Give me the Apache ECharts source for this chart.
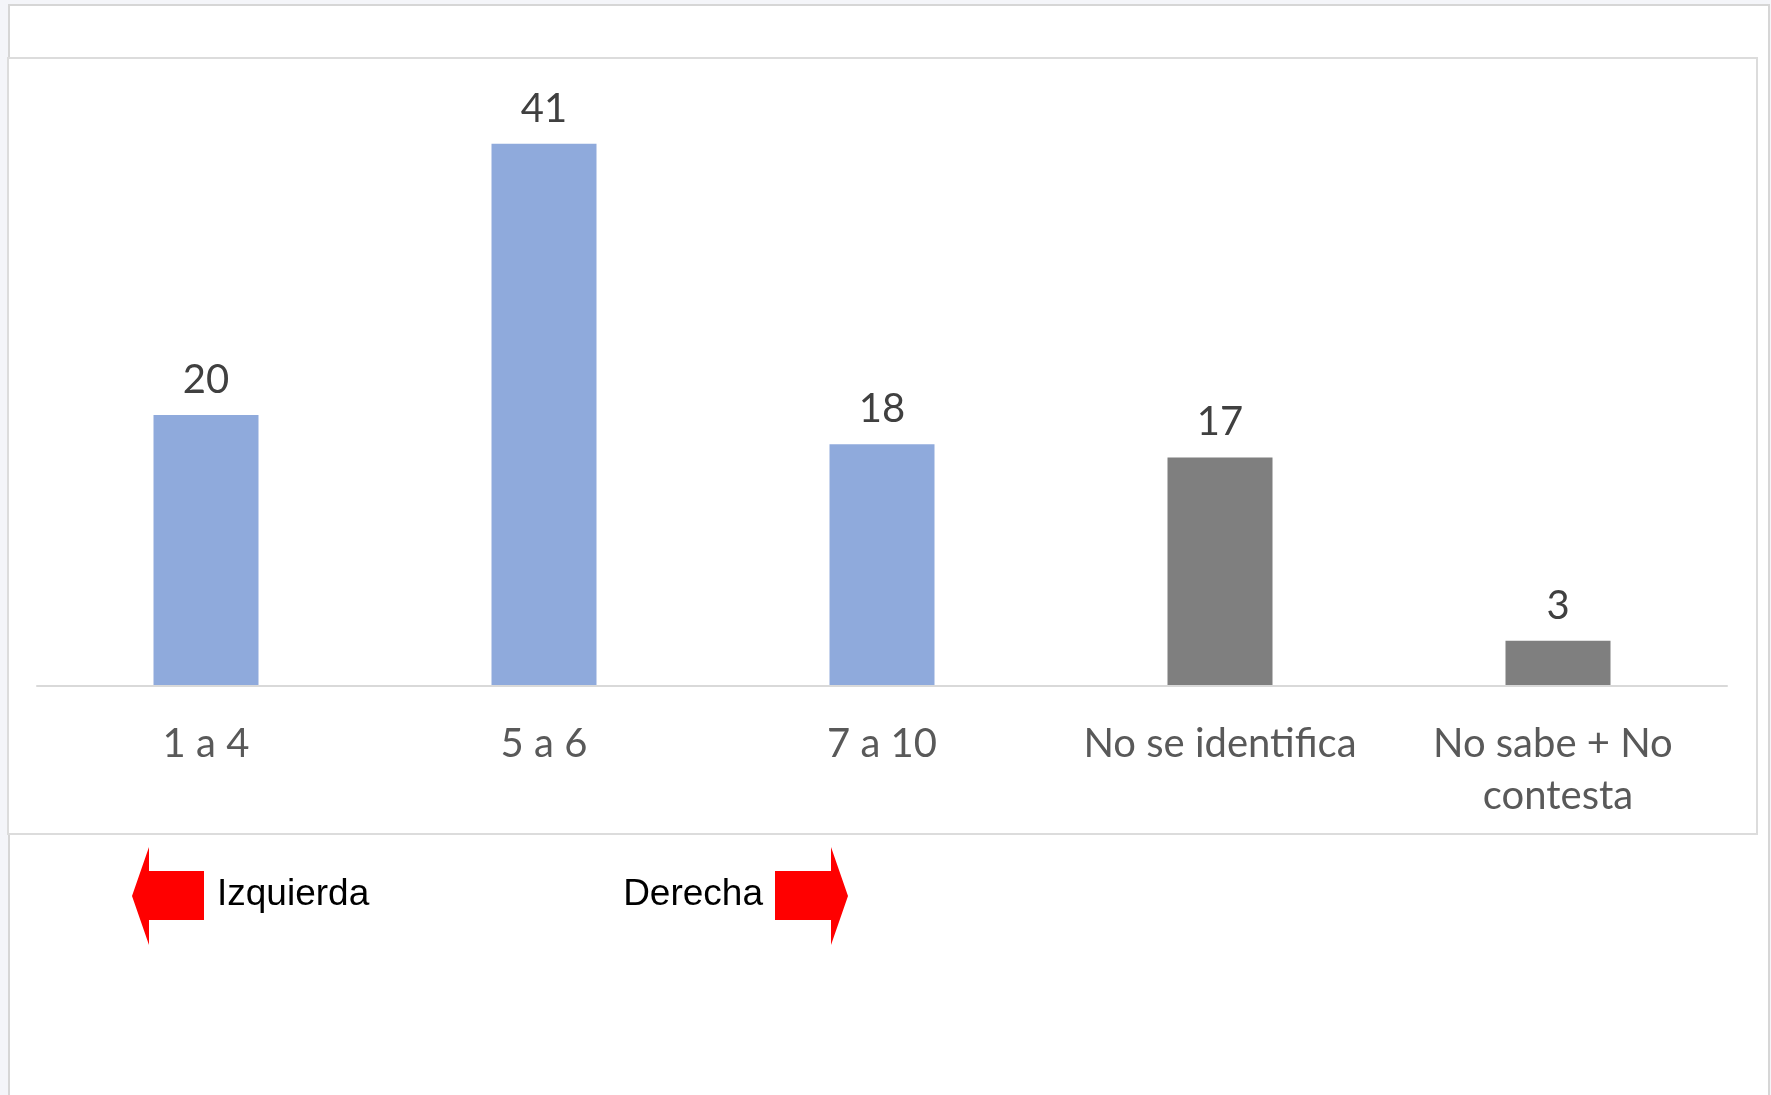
<!DOCTYPE html>
<html>
<head>
<meta charset="utf-8">
<script src="https://cdn.jsdelivr.net/npm/echarts@6/dist/echarts.min.js"></script>
<style>
  html, body { margin: 0; padding: 0; background: #f4f5f9; }
  #chart { width: 1771px; height: 1095px; }
</style>
</head>
<body>
<div id="chart"></div>
<script>
// categories and values (percent)
const categories = ['1 a 4', '5 a 6', '7 a 10', 'No se identifica', 'No sabe + No contesta']
const values = [20.4, 40.8, 18.2, 17.2, 3.4]
// which bars belong to the left-right scale, the rest are "no position"
const onScale = [true, true, true, false, false]

const BLUE = '#8faadc'
const GREY = '#7f7f7f'

let chart = echarts.init(document.getElementById('chart'))

let opts = {
  backgroundColor: '#f4f5f9',
  animation: false,
  grid: { left: 37, right: 44, top: 88, bottom: 409, containLabel: false },
  xAxis: {
    type: 'category',
    data: categories,
    axisLine: { show: true, lineStyle: { color: '#d9d9d9', width: 2 } },
    axisTick: { show: false },
    axisLabel: {
      interval: 0,
      margin: 32,
      color: '#595959',
      fontFamily: 'Lato',
      fontSize: 40,
      lineHeight: 52,
      width: 300,
      overflow: 'break'
    },
    z: 3
  },
  yAxis: {
    type: 'value',
    min: 0,
    max: 45,
    show: false,
    splitLine: { show: false }
  },
  series: [
    {
      type: 'bar',
      data: values,
      barWidth: 105,
      itemStyle: {
        color: p => onScale[p.dataIndex] ? BLUE : GREY
      },
      label: {
        show: true,
        position: 'top',
        distance: 15,
        color: '#404040',
        fontFamily: 'Lato',
        fontSize: 40,
        formatter: p => Math.round(p.value)
      }
    }
  ],
  graphic: [
    // outer white sheet
    {
      type: 'rect', z: -10, silent: true,
      shape: { x: 9, y: 5, width: 1760, height: 1100 },
      style: { fill: '#ffffff', stroke: '#d6d6d6', lineWidth: 2 }
    },
    // chart area frame
    {
      type: 'rect', z: -9, silent: true,
      shape: { x: 8, y: 58, width: 1749, height: 776 },
      style: { fill: '#ffffff', stroke: '#dcdcdc', lineWidth: 2 }
    },
    // left arrow
    {
      type: 'polygon', silent: true,
      shape: { points: [[132, 896], [149, 847], [149, 871], [204, 871], [204, 920], [149, 920], [149, 945]] },
      style: { fill: '#ff0000' }
    },
    {
      type: 'text', silent: true,
      style: { x: 217, y: 895, text: 'Izquierda', fill: '#000', font: '37px "Liberation Sans", Arial, sans-serif', verticalAlign: 'middle', align: 'left' }
    },
    // right arrow
    {
      type: 'polygon', silent: true,
      shape: { points: [[848, 896], [831, 847], [831, 871], [775, 871], [775, 920], [831, 920], [831, 945]] },
      style: { fill: '#ff0000' }
    },
    {
      type: 'text', silent: true,
      style: { x: 763, y: 895, text: 'Derecha', fill: '#000', font: '37px "Liberation Sans", Arial, sans-serif', verticalAlign: 'middle', align: 'right' }
    }
  ]
}

chart.setOption(opts)
</script>
</body>
</html>
